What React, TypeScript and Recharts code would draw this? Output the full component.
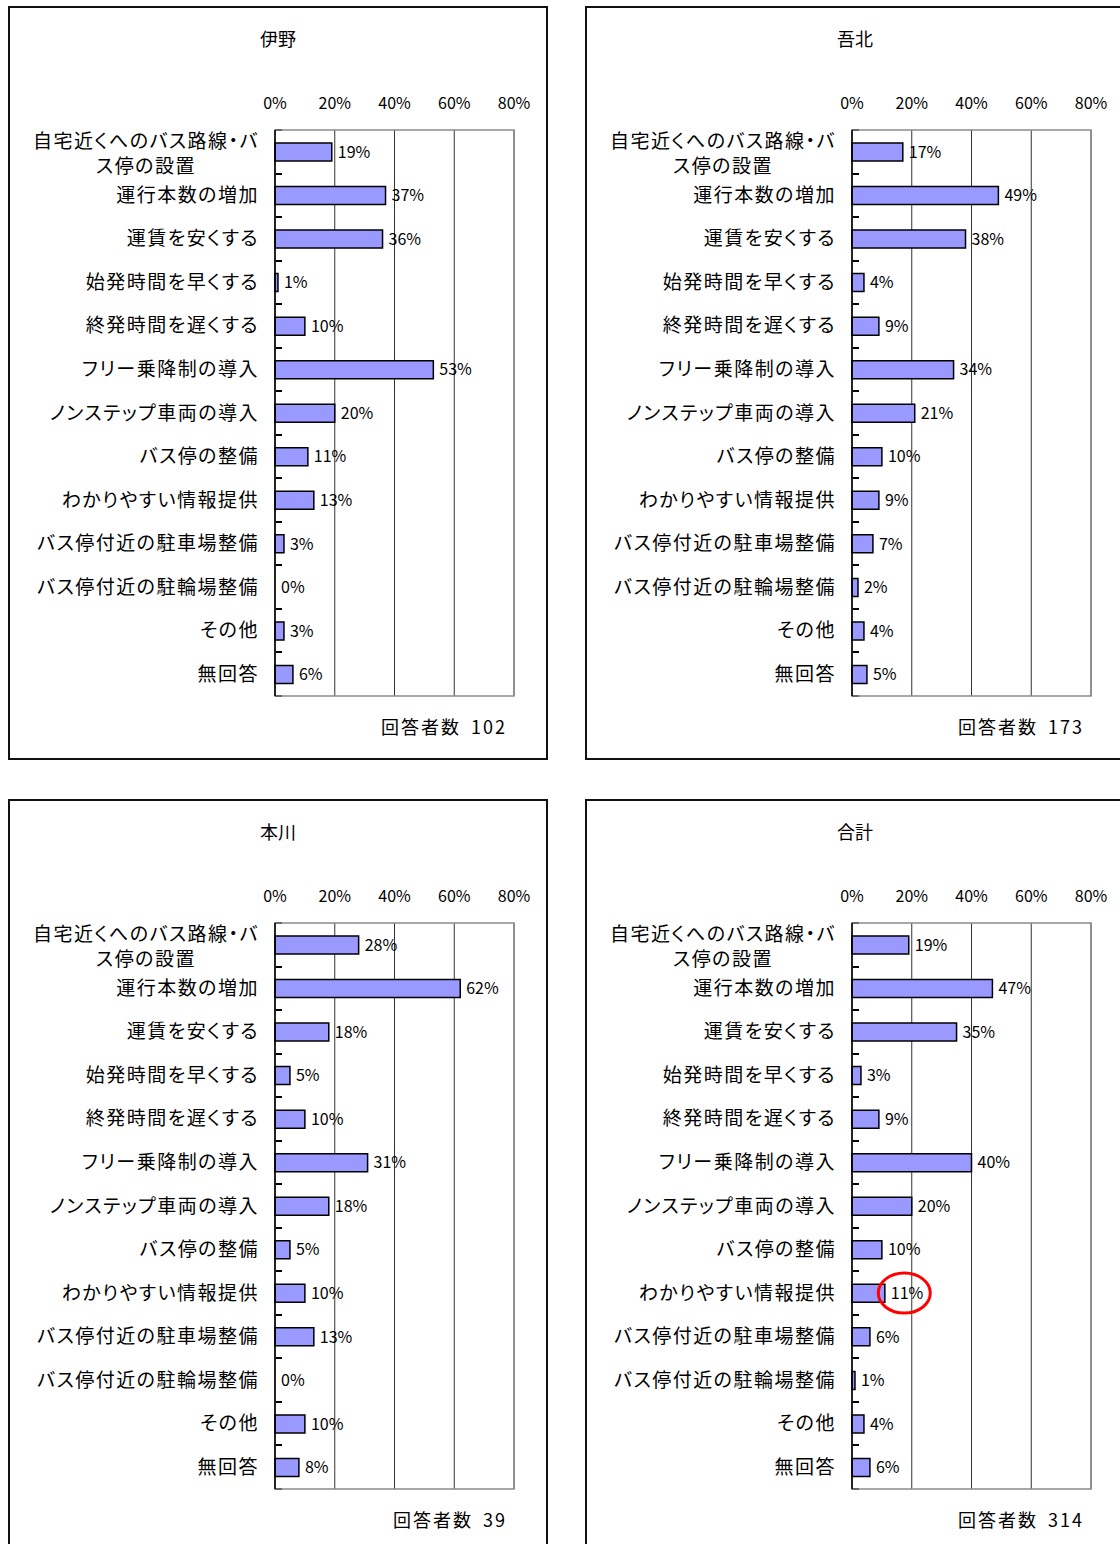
import React from "react";
import {
  Bar,
  BarChart,
  CartesianGrid,
  Cell,
  LabelList,
  ReferenceArea,
  ReferenceDot,
  XAxis,
  YAxis,
} from "recharts";

const FONT = '"Noto Sans CJK JP", "Noto Sans CJK SC", sans-serif';
const BAR_FILL = "#9999FF";

const CATEGORIES = [
  "自宅近くへのバス路線・バス停の設置",
  "運行本数の増加",
  "運賃を安くする",
  "始発時間を早くする",
  "終発時間を遅くする",
  "フリー乗降制の導入",
  "ノンステップ車両の導入",
  "バス停の整備",
  "わかりやすい情報提供",
  "バス停付近の駐車場整備",
  "バス停付近の駐輪場整備",
  "その他",
  "無回答",
];

const INO = [19, 37, 36, 1, 10, 53, 20, 11, 13, 3, 0, 3, 6];
const GOHOKU = [17, 49, 38, 4, 9, 34, 21, 10, 9, 7, 2, 4, 5];
const HONGAWA = [28, 62, 18, 5, 10, 31, 18, 5, 10, 13, 0, 10, 8];
const TOTAL = [19, 47, 35, 3, 9, 40, 20, 10, 11, 6, 1, 4, 6];

const X_TICKS = [0, 20, 40, 60, 80];
const WRAP_AT = 12;
const TICK_MARGIN = 16;

const CHART_W = 540;
const CHART_H = 754;
const MARGIN = { top: 94, right: 34, bottom: 64, left: 0 };

const PANELS = [
  { title: "伊野", values: INO, respondents: 102, left: 8, top: 6 },
  { title: "吾北", values: GOHOKU, respondents: 173, left: 585, top: 6 },
  { title: "本川", values: HONGAWA, respondents: 39, left: 8, top: 799 },
  { title: "合計", values: TOTAL, respondents: 314, left: 585, top: 799, mark: "わかりやすい情報提供" },
];

function CategoryTick(props: any) {
  const { x, y, payload } = props;
  const text: string = payload.value;
  const common = {
    fontFamily: FONT,
    fontSize: 19,
    fill: "#000",
    letterSpacing: 1.5,
    style: { fontFeatureSettings: '"palt"' },
  };
  if (text.length > WRAP_AT) {
    const cx = x - 113;
    return (
      <text {...common} textAnchor="middle">
        <tspan x={cx} y={y - 3.5}>{text.slice(0, WRAP_AT)}</tspan>
        <tspan x={cx} y={y + 21.5}>{text.slice(WRAP_AT)}</tspan>
      </text>
    );
  }
  return (
    <text {...common} x={x} y={y + 6.5} textAnchor="end">
      {text}
    </text>
  );
}

// category boundaries for the short inward tick marks on the left axis
function boundaryRows({ offset }: any) {
  const n = CATEGORIES.length;
  return [...CATEGORIES.map((_, i) => offset.top + (i * offset.height) / n), offset.top + offset.height];
}

function ShortTick(p: any) {
  const y = Math.round(p.y1);
  return <rect key={p.key} x={p.x1} y={y - 1} width={7} height={2} fill="#000" />;
}

function Ellipse(props: any) {
  return <ellipse cx={props.cx} cy={props.cy} rx={26} ry={20} fill="none" stroke="#FF0000" strokeWidth={3} />;
}

function Panel({ title, values, respondents, left, top, mark }: any) {
  const data = CATEGORIES.map((name, i) => ({ name, value: values[i] }));
  return (
    <div
      style={{
        position: "absolute",
        left,
        top,
        width: CHART_W,
        height: CHART_H,
        border: "2px solid #111",
        boxSizing: "border-box",
        background: "#fff",
        fontFamily: FONT,
      }}
    >
      <div style={{ position: "absolute", left: 0, right: 0, top: 17, textAlign: "center", fontSize: 18 }}>
        {title}
      </div>
      <div style={{ position: "absolute", left: -2, top: -2 }}>
        <BarChart layout="vertical" width={CHART_W} height={CHART_H} data={data} margin={MARGIN}>
          <CartesianGrid
            vertical
            stroke="#333"
            strokeWidth={1}
            horizontal={(p: any) => <ShortTick {...p} />}
            horizontalCoordinatesGenerator={boundaryRows}
          />
          <ReferenceArea x1={0} x2={80} yAxisId="cat" fill="none" stroke="#8c8c8c" strokeWidth={1.5} ifOverflow="visible" />
          <XAxis
            type="number"
            orientation="top"
            domain={[0, 80]}
            ticks={X_TICKS}
            tickFormatter={(v) => `${v}%`}
            axisLine={false}
            tickLine={false}
            tickSize={0}
            tickMargin={21}
            height={30}
            tick={{ fontSize: 16, fill: "#000", fontFamily: FONT }}
            interval={0}
          />
          <YAxis
            yAxisId="cat"
            type="category"
            dataKey="name"
            width={267}
            tickSize={0}
            tickMargin={TICK_MARGIN}
            tick={(p: any) => <CategoryTick {...p} />}
            axisLine={{ stroke: "#000", strokeWidth: 1.5 }}
            tickLine={false}
            interval={0}
          />
          <Bar
            yAxisId="cat"
            dataKey="value"
            fill={BAR_FILL}
            stroke="#000"
            strokeWidth={1.5}
            barSize={18}
            minPointSize={0.01}
            isAnimationActive={false}
          >
            {data.map((d) => (
              <Cell key={d.name} stroke={d.value === 0 ? "none" : "#000"} />
            ))}
            <LabelList
              dataKey="value"
              position="right"
              offset={6}
              formatter={(v: any) => `${v}%`}
              style={{ fontSize: 16, fill: "#000", fontFamily: FONT }}
            />
          </Bar>
          {mark && (
            <ReferenceDot yAxisId="cat" x={17.5} y={mark} r={20} shape={<Ellipse />} ifOverflow="visible" />
          )}
        </BarChart>
      </div>
      <div
        style={{
          position: "absolute",
          right: 39,
          top: 705,
          fontSize: 18,
          letterSpacing: 2,
          whiteSpace: "pre",
        }}
      >
        <span>回答者数</span>
        <span style={{ marginLeft: 10 }}>{respondents}</span>
      </div>
    </div>
  );
}

export default function App() {
  return (
    <div
      style={{
        position: "absolute",
        left: 0,
        top: 0,
        width: 1120,
        height: 1544,
        overflow: "hidden",
        background: "#fff",
      }}
    >
      {PANELS.map((p) => (
        <Panel key={p.title} {...p} />
      ))}
    </div>
  );
}
